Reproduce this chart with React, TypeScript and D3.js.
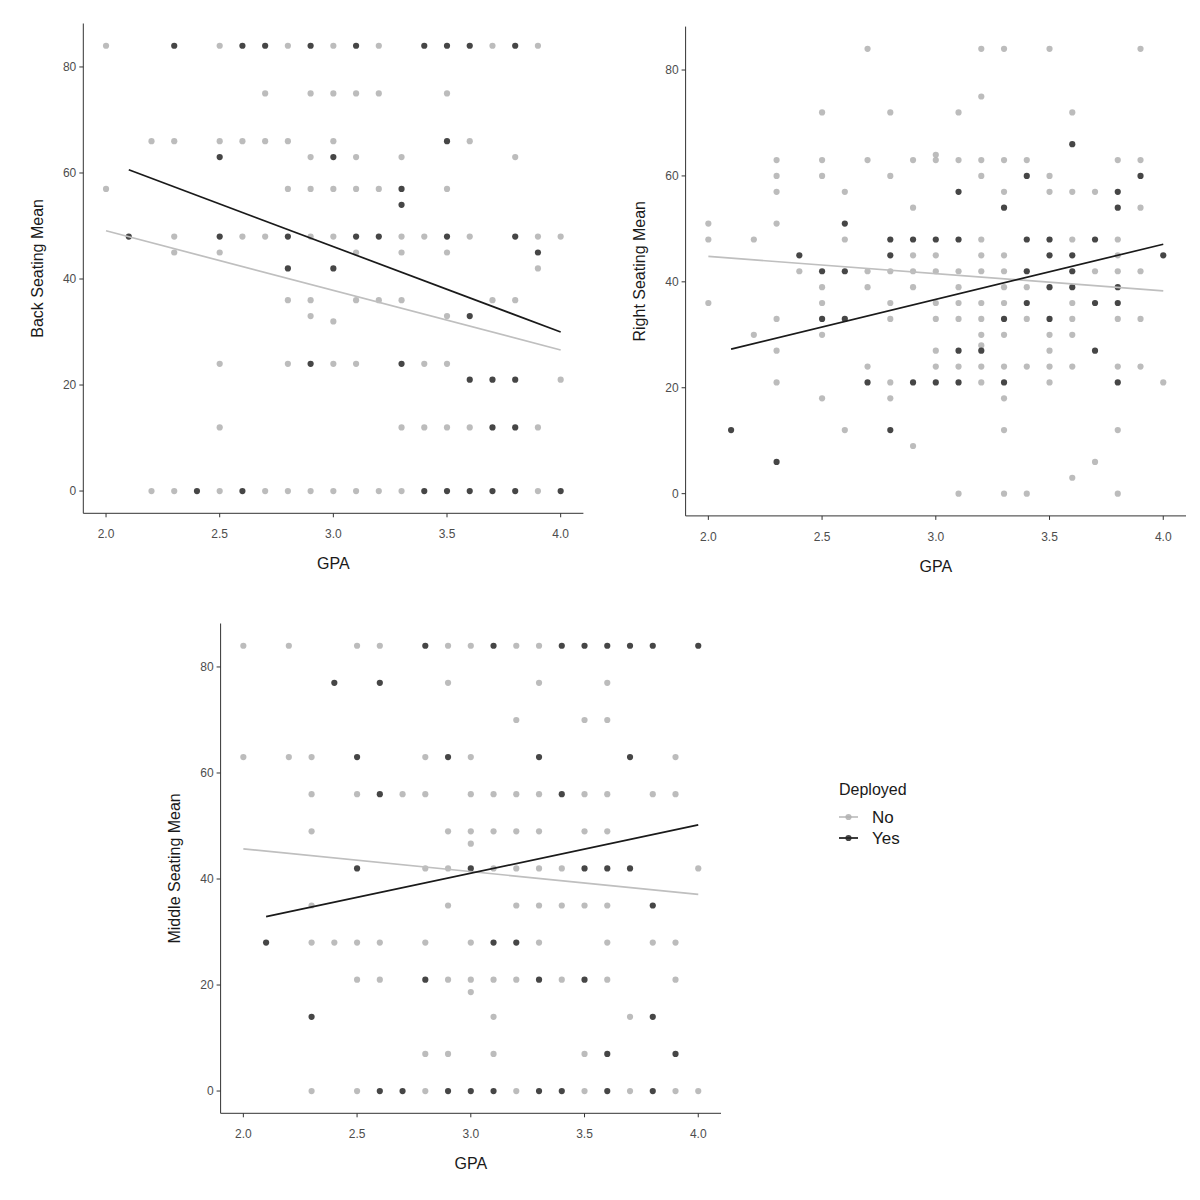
import React from 'react';
import * as d3 from 'd3';

// [seating mean, GPAs having that value]
type Row = [number, number[]];

const gpaTicks = [2.0, 2.5, 3.0, 3.5, 4.0];
const seatTicks = [0, 20, 40, 60, 80];
const groups = ['No', 'Yes'];

const backNo: Row[] = [
  [84, [2.0, 2.5, 2.8, 3.0, 3.2, 3.7, 3.9]],
  [75, [2.7, 2.9, 3.0, 3.1, 3.2, 3.5]],
  [66, [2.2, 2.3, 2.5, 2.6, 2.7, 2.8, 3.0, 3.6]],
  [63, [2.9, 3.1, 3.3, 3.8]],
  [57, [2.0, 2.8, 2.9, 3.0, 3.1, 3.2, 3.5]],
  [48, [2.3, 2.6, 2.7, 2.9, 3.0, 3.3, 3.4, 3.6, 3.9, 4.0]],
  [45, [2.3, 2.5, 3.1, 3.3, 3.5]],
  [42, [3.9]],
  [36, [2.8, 2.9, 3.1, 3.2, 3.3, 3.7, 3.8]],
  [33, [2.9, 3.5]],
  [32, [3.0]],
  [24, [2.5, 2.8, 3.0, 3.1, 3.4, 3.5]],
  [21, [4.0]],
  [12, [2.5, 3.3, 3.4, 3.5, 3.6, 3.9]],
  [0, [2.2, 2.3, 2.5, 2.7, 2.8, 2.9, 3.0, 3.1, 3.2, 3.3, 3.9]],
];
const backYes: Row[] = [
  [84, [2.3, 2.6, 2.7, 2.9, 3.1, 3.4, 3.5, 3.6, 3.8]],
  [66, [3.5]],
  [63, [2.5, 3.0]],
  [57, [3.3]],
  [54, [3.3]],
  [48, [2.1, 2.5, 2.8, 3.1, 3.2, 3.5, 3.8]],
  [45, [3.9]],
  [42, [2.8, 3.0]],
  [33, [3.6]],
  [24, [2.9, 3.3]],
  [21, [3.6, 3.7, 3.8]],
  [12, [3.7, 3.8]],
  [0, [2.4, 2.6, 3.4, 3.5, 3.6, 3.7, 3.8, 4.0]],
];

const rightNo: Row[] = [
  [84, [2.7, 3.2, 3.3, 3.5, 3.9]],
  [75, [3.2]],
  [72, [2.5, 2.8, 3.1, 3.6]],
  [64, [3.0]],
  [63, [2.3, 2.5, 2.7, 2.9, 3.0, 3.1, 3.2, 3.3, 3.4, 3.8, 3.9]],
  [60, [2.3, 2.5, 2.8, 3.2, 3.5]],
  [57, [2.3, 2.6, 3.3, 3.5, 3.6, 3.7]],
  [54, [2.9, 3.9]],
  [51, [2.0, 2.3]],
  [48, [2.0, 2.2, 2.6, 3.2, 3.6, 3.8]],
  [45, [2.9, 3.0, 3.2, 3.3, 3.8]],
  [42, [2.4, 2.7, 2.8, 2.9, 3.0, 3.1, 3.2, 3.3, 3.7, 3.8, 3.9]],
  [39, [2.5, 2.7, 2.9, 3.1, 3.3, 3.4]],
  [36, [2.0, 2.5, 2.8, 3.0, 3.1, 3.2, 3.3, 3.6]],
  [33, [2.3, 2.8, 3.0, 3.1, 3.2, 3.4, 3.6, 3.8, 3.9]],
  [30, [2.2, 2.5, 3.2, 3.3, 3.5, 3.6]],
  [28, [3.2]],
  [27, [2.3, 3.0, 3.5]],
  [24, [2.7, 3.0, 3.1, 3.2, 3.3, 3.4, 3.5, 3.6, 3.8, 3.9]],
  [21, [2.3, 2.8, 3.2, 3.5, 4.0]],
  [18, [2.5, 2.8, 3.3]],
  [12, [2.6, 3.3, 3.8]],
  [9, [2.9]],
  [6, [3.7]],
  [3, [3.6]],
  [0, [3.1, 3.3, 3.4, 3.8]],
];
const rightYes: Row[] = [
  [66, [3.6]],
  [60, [3.4, 3.9]],
  [57, [3.1, 3.8]],
  [54, [3.3, 3.8]],
  [51, [2.6]],
  [48, [2.8, 2.9, 3.0, 3.1, 3.4, 3.5, 3.7]],
  [45, [2.4, 2.8, 3.5, 3.6, 4.0]],
  [42, [2.5, 2.6, 3.4, 3.6]],
  [39, [3.5, 3.6, 3.8]],
  [36, [3.4, 3.7, 3.8]],
  [33, [2.5, 2.6, 3.3, 3.5]],
  [27, [3.1, 3.2, 3.7]],
  [21, [2.7, 2.9, 3.0, 3.1, 3.3, 3.8]],
  [12, [2.1, 2.8]],
  [6, [2.3]],
];

const middleNo: Row[] = [
  [84, [2.0, 2.2, 2.5, 2.6, 2.9, 3.0, 3.2, 3.3]],
  [77, [2.9, 3.3, 3.6]],
  [70, [3.2, 3.5, 3.6]],
  [63, [2.0, 2.2, 2.3, 2.8, 3.0, 3.9]],
  [56, [2.3, 2.5, 2.7, 2.8, 3.0, 3.1, 3.2, 3.3, 3.5, 3.6, 3.8, 3.9]],
  [49, [2.3, 2.9, 3.0, 3.1, 3.2, 3.3, 3.5, 3.6]],
  [46.67, [3.0]],
  [42, [2.8, 2.9, 3.1, 3.2, 3.3, 3.4, 4.0]],
  [35, [2.3, 2.9, 3.2, 3.3, 3.4, 3.5, 3.6]],
  [28, [2.3, 2.4, 2.5, 2.6, 2.8, 3.0, 3.3, 3.6, 3.8, 3.9]],
  [21, [2.5, 2.6, 2.9, 3.0, 3.1, 3.2, 3.4, 3.6, 3.9]],
  [18.67, [3.0]],
  [14, [3.1, 3.7]],
  [7, [2.8, 2.9, 3.1, 3.5]],
  [0, [2.3, 2.5, 2.8, 3.2, 3.5, 3.7, 3.9, 4.0]],
];
const middleYes: Row[] = [
  [84, [2.8, 3.1, 3.4, 3.5, 3.6, 3.7, 3.8, 4.0]],
  [77, [2.4, 2.6]],
  [63, [2.5, 2.9, 3.3, 3.7]],
  [56, [2.6, 3.4]],
  [42, [2.5, 3.0, 3.5, 3.6, 3.7]],
  [35, [3.8]],
  [28, [2.1, 3.1, 3.2]],
  [21, [2.8, 3.3, 3.5]],
  [14, [2.3, 3.8]],
  [7, [3.6, 3.9]],
  [0, [2.6, 2.7, 2.9, 3.0, 3.1, 3.3, 3.4, 3.6, 3.8]],
];

// fitted lm lines: [gpa, mean] at each end
const backFitNo: [number, number][] = [[2.0, 49.1], [4.0, 26.6]];
const backFitYes: [number, number][] = [[2.1, 60.6], [4.0, 30.0]];
const rightFitNo: [number, number][] = [[2.0, 44.8], [4.0, 38.3]];
const rightFitYes: [number, number][] = [[2.1, 27.3], [4.0, 47.1]];
const middleFitNo: [number, number][] = [[2.0, 45.7], [4.0, 37.1]];
const middleFitYes: [number, number][] = [[2.1, 32.9], [4.0, 50.2]];

const pointFill: Record<string, string> = { No: '#b0b0b0', Yes: '#262626' };
const lineColor: Record<string, string> = { No: '#bfbfbf', Yes: '#1a1a1a' };
const font = '"Liberation Sans", Arial, sans-serif';

interface PanelProps {
  ylabel: string;
  no: Row[];
  yes: Row[];
  fitNo: [number, number][];
  fitYes: [number, number][];
  left: number;
  right: number;
  top: number;
  bottom: number;
}

const Panel: React.FC<PanelProps> = ({ ylabel, no, yes, fitNo, fitYes, left, right, top, bottom }) => {
  const x = d3.scaleLinear().domain([1.9, 4.1]).range([left, right]);
  const y = d3.scaleLinear().domain([-4.2, 88.2]).range([bottom, top]);
  const line = d3.line<[number, number]>().x(d => x(d[0])).y(d => y(d[1]));
  const flat = (rows: Row[]) => rows.flatMap(([v, gs]) => gs.map(g => [g, v] as [number, number]));
  const series = [
    { key: 'No', pts: flat(no), fit: fitNo },
    { key: 'Yes', pts: flat(yes), fit: fitYes },
  ];

  return (
    <g fontFamily={font}>
      {series.map(s => (
        <g key={s.key}>
          {s.pts.map((p, i) => (
            <circle key={i} cx={x(p[0])} cy={y(p[1])} r={3.1} fill={pointFill[s.key]} fillOpacity={0.85} />
          ))}
        </g>
      ))}
      {series.map(s => (
        <path key={s.key} d={line(s.fit) || ''} fill="none" stroke={lineColor[s.key]} strokeWidth={1.7} />
      ))}
      {/* axes */}
      <line x1={left} x2={right} y1={bottom} y2={bottom} stroke="#333" strokeWidth={1} />
      <line x1={left} x2={left} y1={top} y2={bottom} stroke="#333" strokeWidth={1} />
      {gpaTicks.map(t => (
        <g key={t}>
          <line x1={x(t)} x2={x(t)} y1={bottom} y2={bottom + 4} stroke="#333" />
          <text x={x(t)} y={bottom + 25} textAnchor="middle" fontSize={12} fill="#4d4d4d">{d3.format('.1f')(t)}</text>
        </g>
      ))}
      {seatTicks.map(t => (
        <g key={t}>
          <line x1={left - 4} x2={left} y1={y(t)} y2={y(t)} stroke="#333" />
          <text x={left - 7} y={y(t) + 4.3} textAnchor="end" fontSize={12} fill="#4d4d4d">{t}</text>
        </g>
      ))}
      <text x={(left + right) / 2} y={bottom + 56} textAnchor="middle" fontSize={16} fill="#1a1a1a">GPA</text>
      <text transform={`translate(${left - 40.5},${(top + bottom) / 2}) rotate(-90)`} textAnchor="middle" fontSize={16} fill="#1a1a1a">
        {ylabel}
      </text>
    </g>
  );
};

const Legend: React.FC = () => (
  <g fontFamily={font}>
    <text x={839} y={795} fontSize={16} fill="#1a1a1a">Deployed</text>
    {groups.map((g, i) => {
      const cy = 817 + i * 21;
      return (
        <g key={g}>
          <line x1={839} x2={858} y1={cy} y2={cy} stroke={lineColor[g]} strokeWidth={1.7} />
          <circle cx={848.5} cy={cy} r={3.1} fill={pointFill[g]} fillOpacity={0.85} />
          <text x={872} y={cy + 6} fontSize={17} fill="#1a1a1a">{g}</text>
        </g>
      );
    })}
  </g>
);

const App: React.FC = () => (
  <div style={{ position: 'absolute', left: 0, top: 0 }}>
    <svg width={1200} height={1200} viewBox="0 0 1200 1200" style={{ display: 'block', background: '#fff' }}>
      <Panel ylabel="Back Seating Mean" no={backNo} yes={backYes} fitNo={backFitNo} fitYes={backFitYes}
        left={83.3} right={583.4} top={23.5} bottom={513.3} />
      <Panel ylabel="Right Seating Mean" no={rightNo} yes={rightYes} fitNo={rightFitNo} fitYes={rightFitYes}
        left={685.6} right={1186} top={26.6} bottom={515.9} />
      <Panel ylabel="Middle Seating Mean" no={middleNo} yes={middleYes} fitNo={middleFitNo} fitYes={middleFitYes}
        left={220.6} right={721} top={623.5} bottom={1113.3} />
      <Legend />
    </svg>
  </div>
);

export default App;
